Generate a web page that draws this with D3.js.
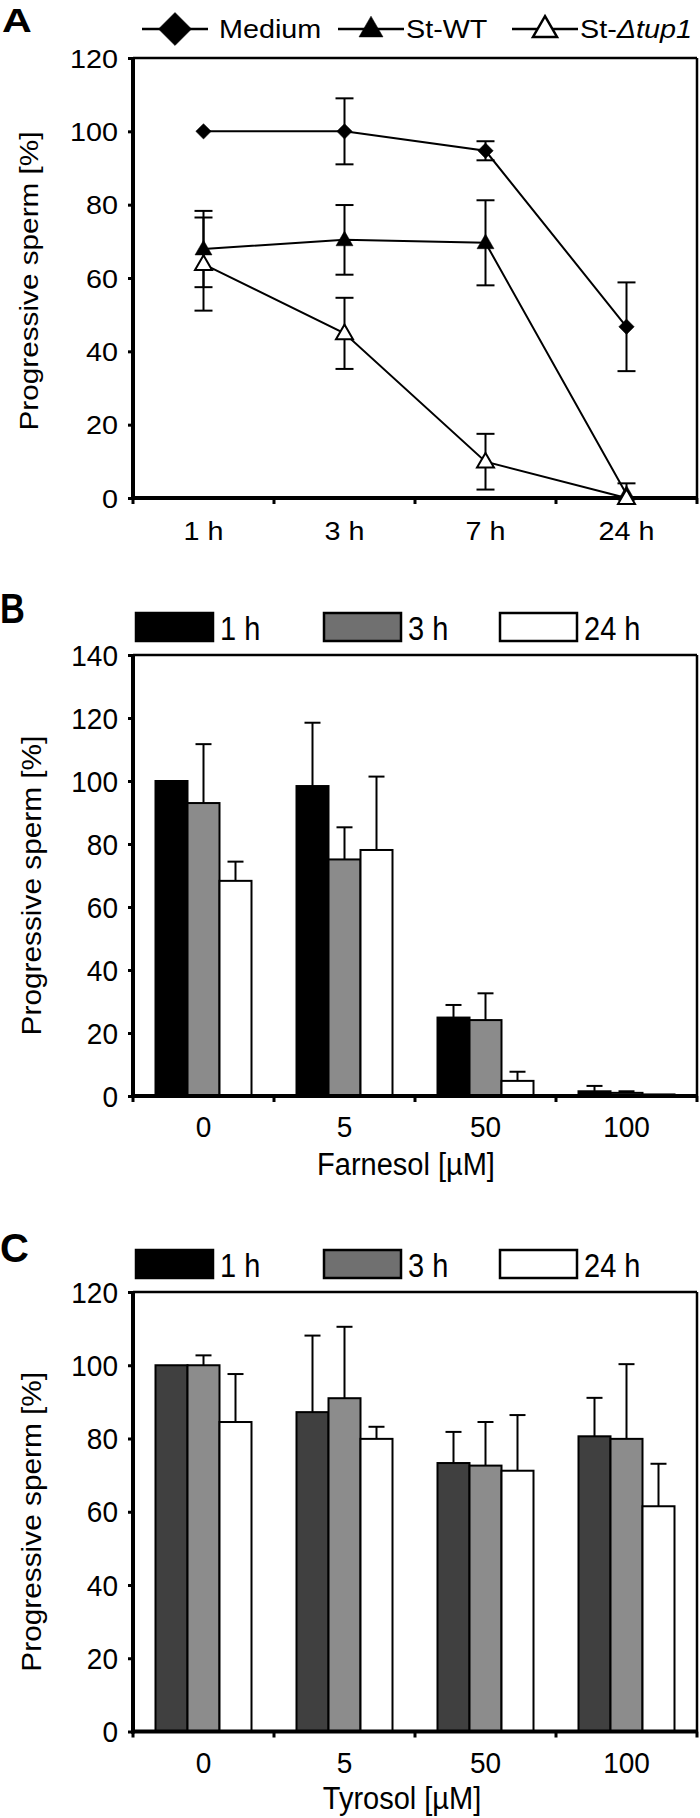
<!DOCTYPE html>
<html lang="en">
<head>
<meta charset="UTF-8">
<title>Progressive sperm</title>
<style>
  body { margin: 0; background: #fff; }
  svg { display: block; font-family: "Liberation Sans", Arial, sans-serif; }
  text { fill: #000; }
</style>
</head>
<body>
<div id="chart"></div>
<script src="https://d3js.org/d3.v7.min.js"></script>
<script>
// ---- panel A data (time course) ----
const timeCats = ['1 h', '3 h', '7 h', '24 h'];
const mediumVals = [100, 100, 94.7, 46.7];
const mediumErr = [0, 9, 2.6, 12.1];
const wtVals = [67.9, 70.4, 69.6, 1];
const wtErr = [10.4, 9.5, 11.6, 3];
const tupVals = [63.8, 44.9, 9.9, 0];
const tupErr = [12.7, 9.7, 7.6, 0];

// ---- panels B / C data (dose) ----
const doseCats = ['0', '5', '50', '100'];
const barSeries = ['1 h', '3 h', '24 h'];
const farn1h = [100, 98.4, 24.9, 1.5];
const farn1hErr = [0, 20.1, 4, 1.7];
const farn3h = [93, 75.1, 24.1, 1];
const farn3hErr = [18.7, 10.2, 8.5, 0.5];
const farn24h = [68.3, 78.1, 4.8, 0.5];
const farn24hErr = [6.1, 23.3, 2.9, 0];
const tyr1h = [100, 87.2, 73.3, 80.6];
const tyr1hErr = [0, 20.9, 8.5, 10.5];
const tyr3h = [100, 91, 72.6, 79.9];
const tyr3hErr = [2.7, 19.5, 11.9, 20.4];
const tyr24h = [84.5, 79.9, 71.2, 61.5];
const tyr24hErr = [13.1, 3.3, 15.2, 11.6];

const W = 700, H = 1818;
const left = 133, right = 697;

const svg = d3.select('#chart').append('svg')
    .attr('width', W).attr('height', H);
svg.append('rect').attr('width', W).attr('height', H).attr('fill', '#fff');

// text helper, stretched a bit like the original figure
function addText(g, x, y, str, o = {}) {
    return g.append('text')
        .attr('transform', `translate(${x},${y}) rotate(${o.rot || 0}) scale(${o.sx || 1},${o.sy || 1})`)
        .attr('text-anchor', o.anchor || 'start')
        .attr('font-size', o.size || 25)
        .attr('font-weight', o.weight || 'normal')
        .text(str);
}

// frame + y axis + boundary ticks, shared by the three panels
function drawFrame(g, y, x0, yMax, txt) {
    const top = y(yMax), bottom = y(0);
    const yAxis = d3.axisLeft(y).tickValues(d3.range(0, yMax + 1, 20)).tickSize(5).tickPadding(0);
    g.append('g').attr('transform', `translate(${left},0)`).call(yAxis)
        .call(s => s.select('.domain').remove())
        .call(s => s.selectAll('line').attr('stroke', '#000').attr('stroke-width', 3))
        .call(s => s.selectAll('text')
            .attr('font-size', txt.size)
            .attr('font-family', null)
            .attr('x', 0).attr('dy', null)
            .attr('transform', `translate(-15,${txt.capHalf}) scale(${txt.sx},${txt.sy})`));

    g.append('line').attr('x1', left).attr('x2', right).attr('y1', top).attr('y2', top)
        .attr('stroke', '#000').attr('stroke-width', 2.5);
    g.append('line').attr('x1', right).attr('x2', right).attr('y1', top).attr('y2', bottom)
        .attr('stroke', '#000').attr('stroke-width', 2.5);
    g.append('line').attr('x1', left).attr('x2', left).attr('y1', top - 1).attr('y2', bottom + 2)
        .attr('stroke', '#000').attr('stroke-width', 4);
    g.append('line').attr('x1', left - 2).attr('x2', right + 1).attr('y1', bottom).attr('y2', bottom)
        .attr('stroke', '#000').attr('stroke-width', 4);

    const bounds = x0.domain().map(d => x0(d)).concat([x0.range()[1]]);
    g.selectAll(null).data(bounds).join('line')
        .attr('x1', d => d).attr('x2', d => d)
        .attr('y1', bottom).attr('y2', bottom + 6)
        .attr('stroke', '#000').attr('stroke-width', 3);
}

// ================= Panel A =================
const gA = svg.append('g');
const xA = d3.scaleBand().domain(timeCats).range([left, right]);
const yA = d3.scaleLinear().domain([0, 120]).range([498, 58]);
const cx = d => xA(d) + xA.bandwidth() / 2;

drawFrame(gA, yA, xA, 120, { size: 25, sx: 1.15, sy: 1, capHalf: 9 });
timeCats.forEach(c => addText(gA, cx(c), 540, c, { size: 25, sx: 1.15, anchor: 'middle' }));
addText(gA, 38, 281, 'Progressive sperm [%]', { size: 25, rot: -90, sx: 1.19, anchor: 'middle' });
addText(gA, 2, 32, 'A', { size: 33, weight: 'bold', sx: 1.25 });

const seriesA = [
    { name: 'Medium', vals: mediumVals, err: mediumErr, shape: 'diamond', fill: '#000' },
    { name: 'St-WT', vals: wtVals, err: wtErr, shape: 'triangle', fill: '#000' },
    { name: 'St-\u0394tup1', vals: tupVals, err: tupErr, shape: 'triangle', fill: '#fff' }
];

function marker(shape, big) {
    if (shape === 'diamond') return d3.symbol(d3.symbolSquare, big ? 544 : 118)();
    return d3.symbol(d3.symbolTriangle, big ? 250 : 125)();
}

const line = d3.line().x((d, i) => cx(timeCats[i])).y(d => yA(d));
seriesA.forEach(s => {
    const gs = gA.append('g');
    gs.append('path').datum(s.vals).attr('d', line)
        .attr('fill', 'none').attr('stroke', '#000').attr('stroke-width', 2);
    // error bars
    const eb = gs.selectAll(null).data(s.vals.map((v, i) => ({ v, e: s.err[i], c: timeCats[i] })).filter(d => d.e > 0))
        .join('g');
    eb.append('line').attr('x1', d => cx(d.c)).attr('x2', d => cx(d.c))
        .attr('y1', d => yA(d.v + d.e)).attr('y2', d => yA(Math.max(0, d.v - d.e)))
        .attr('stroke', '#000').attr('stroke-width', 2);
    [1, -1].forEach(sg => {
        eb.append('line').attr('x1', d => cx(d.c) - 9).attr('x2', d => cx(d.c) + 9)
            .attr('y1', d => yA(Math.max(0, d.v + sg * d.e))).attr('y2', d => yA(Math.max(0, d.v + sg * d.e)))
            .attr('stroke', '#000').attr('stroke-width', 2);
    });
});
seriesA.forEach(s => {
    gA.selectAll(null).data(s.vals).join('path')
        .attr('d', marker(s.shape, false))
        .attr('transform', (d, i) => `translate(${cx(timeCats[i])},${yA(d) + (s.shape === 'triangle' ? 1 : 0)}) rotate(${s.shape === 'diamond' ? 45 : 0})`)
        .attr('fill', s.fill).attr('stroke', '#000').attr('stroke-width', s.fill === '#fff' ? 2 : 0.5);
});

// legend A
const legA = [{ lx: 142, tx: 219 }, { lx: 338, tx: 406 }, { lx: 512, tx: 580 }];
seriesA.forEach((s, i) => {
    const p = legA[i], ly = 29;
    gA.append('line').attr('x1', p.lx).attr('x2', p.lx + 66).attr('y1', ly).attr('y2', ly)
        .attr('stroke', '#000').attr('stroke-width', 2.5);
    gA.append('path').attr('d', marker(s.shape, true))
        .attr('transform', `translate(${p.lx + 33},${ly + (s.shape === 'triangle' ? 1 : 0)}) rotate(${s.shape === 'diamond' ? 45 : 0})`)
        .attr('fill', s.fill).attr('stroke', '#000').attr('stroke-width', s.fill === '#fff' ? 2.5 : 0.5);
    const t = addText(gA, p.tx, 38, '', { size: 25, sx: 1.15 });
    if (i === 2) {
        t.append('tspan').text('St-');
        t.append('tspan').attr('font-style', 'italic').text('\u0394tup1');
    } else {
        t.text(s.name);
    }
});

// ================= Bar panels B and C =================
function barPanel(cfg) {
    const g = svg.append('g');
    const x0 = d3.scaleBand().domain(doseCats).range([left, right]);
    const x1 = d3.scaleBand().domain(barSeries).range([0, 96]);
    const off = (x0.bandwidth() - 96) / 2;
    const y = d3.scaleLinear().domain([0, cfg.yMax]).range([cfg.bottom, cfg.top]);

    const rows = [];
    barSeries.forEach((s, si) => doseCats.forEach((c, ci) => {
        rows.push({ s, c, v: cfg.vals[si][ci], e: cfg.errs[si][ci], fill: cfg.fills[si] });
    }));

    const bx = d => x0(d.c) + off + x1(d.s);
    // error bars (upper only) behind the bars
    const eb = g.selectAll(null).data(rows.filter(d => d.e > 0)).join('g');
    eb.append('line').attr('x1', d => bx(d) + x1.bandwidth() / 2).attr('x2', d => bx(d) + x1.bandwidth() / 2)
        .attr('y1', d => y(d.v)).attr('y2', d => y(d.v + d.e))
        .attr('stroke', '#000').attr('stroke-width', 2);
    eb.append('line').attr('x1', d => bx(d) + x1.bandwidth() / 2 - 8).attr('x2', d => bx(d) + x1.bandwidth() / 2 + 8)
        .attr('y1', d => y(d.v + d.e)).attr('y2', d => y(d.v + d.e))
        .attr('stroke', '#000').attr('stroke-width', 2);

    g.selectAll(null).data(rows).join('rect')
        .attr('x', d => bx(d)).attr('width', x1.bandwidth())
        .attr('y', d => y(d.v)).attr('height', d => y(0) - y(d.v))
        .attr('fill', d => d.fill).attr('stroke', '#000').attr('stroke-width', 2);

    drawFrame(g, y, x0, cfg.yMax, { size: 28, sx: 1, sy: 1.05, capHalf: 10 });
    doseCats.forEach(c => addText(g, x0(c) + x0.bandwidth() / 2, cfg.bottom + 41, c,
        { size: 28, sy: 1.08, anchor: 'middle' }));
    addText(g, 41, (cfg.top + cfg.bottom) / 2 + 10, 'Progressive sperm [%]',
        { size: 28, rot: -90, sx: 1.065, anchor: 'middle' });
    addText(g, cfg.titleX, cfg.titleY, cfg.title, { size: 29, anchor: 'middle', sy: 1.05 });
    addText(g, 0, cfg.letterY, cfg.letter, { size: cfg.letterSize, weight: 'bold', sx: cfg.letterSx });

    // legend
    const boxX = [136, 324, 500];
    barSeries.forEach((s, i) => {
        g.append('rect').attr('x', boxX[i]).attr('y', cfg.legY).attr('width', 77).attr('height', 28)
            .attr('fill', cfg.legFills[i]).attr('stroke', '#000').attr('stroke-width', 2.5);
        addText(g, boxX[i] + 84, cfg.legY + 27, s, { size: 29, sy: 1.15 });
    });
}

barPanel({
    vals: [farn1h, farn3h, farn24h], errs: [farn1hErr, farn3hErr, farn24hErr],
    fills: ['#000', '#8b8b8b', '#fff'], legFills: ['#000', '#707070', '#fff'],
    yMax: 140, top: 655, bottom: 1096,
    title: 'Farnesol [\u00b5M]', titleX: 406, titleY: 1175,
    letter: 'B', letterY: 623, letterSize: 43, letterSx: 0.8, legY: 613
});

barPanel({
    vals: [tyr1h, tyr3h, tyr24h], errs: [tyr1hErr, tyr3hErr, tyr24hErr],
    fills: ['#404040', '#8c8c8c', '#fff'], legFills: ['#000', '#707070', '#fff'],
    yMax: 120, top: 1292, bottom: 1731.5,
    title: 'Tyrosol [\u00b5M]', titleX: 402, titleY: 1809,
    letter: 'C', letterY: 1262, letterSize: 40, letterSx: 1, legY: 1250
});
</script>
</body>
</html>
